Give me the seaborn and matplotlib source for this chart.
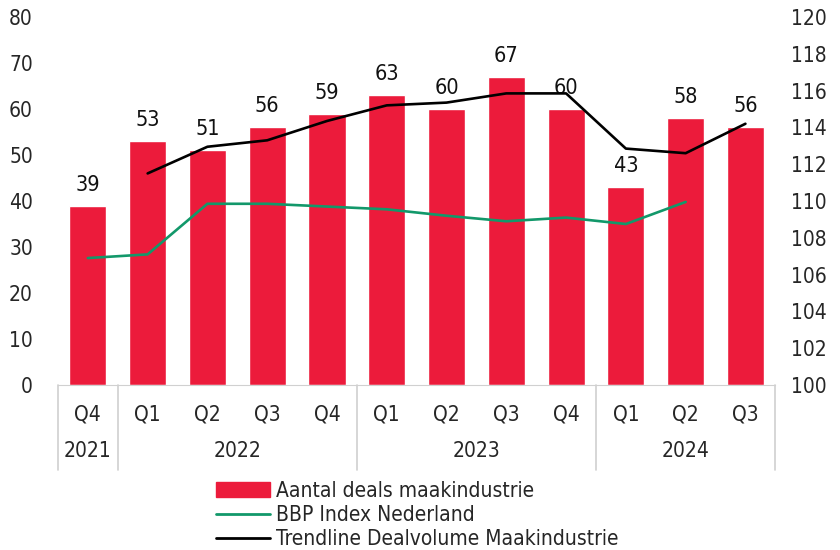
import numpy as np
import pandas as pd
import seaborn as sns
import matplotlib.pyplot as plt
import matplotlib.transforms as mtransforms
from matplotlib.lines import Line2D
from matplotlib.patches import Patch

# data
quarters = ['Q4', 'Q1', 'Q2', 'Q3', 'Q4', 'Q1', 'Q2', 'Q3', 'Q4', 'Q1', 'Q2', 'Q3']
years = ['2021', '2022', '2022', '2022', '2022', '2023', '2023', '2023', '2023', '2024', '2024', '2024']
deals = [39, 53, 51, 56, 59, 63, 60, 67, 60, 43, 58, 56]
bbp = [106.9, 107.1, 109.85, 109.85, 109.7, 109.55, 109.2, 108.9, 109.1, 108.75, 109.95, np.nan]
trend = [np.nan, 111.5, 112.95, 113.3, 114.35, 115.2, 115.35, 115.85, 115.85, 112.85, 112.6, 114.2]

red = '#EC1B3B'
green = '#12986A'
grey = '#D0D0D0'

sns.set_style('white')
plt.rcParams['font.family'] = ['DejaVu Sans']
plt.rcParams['font.stretch'] = 'condensed'
plt.rcParams['font.size'] = 15

df = pd.DataFrame({'idx': range(len(deals)), 'deals': deals, 'bbp': bbp, 'trend': trend})

fig = plt.figure(figsize=(8.4, 5.5), dpi=100)
ax = fig.add_axes([0.069, 0.30, 0.854, 0.669])

sns.barplot(data=df, x='idx', y='deals', color=red, saturation=1, width=0.62, ax=ax)
ax.bar_label(ax.containers[0], padding=8, fontsize=15.5, color='#111111')
ax.set_ylim(0, 80)
ax.set_yticks(range(0, 81, 10))
ax.set_xlim(-0.5, len(deals) - 0.5)
ax.set_xlabel('')
ax.set_ylabel('')
ax.set_xticks(range(len(deals)))
ax.set_xticklabels(quarters)
ax.tick_params(axis='x', length=0, pad=14, labelsize=15)
ax.tick_params(axis='y', length=0, pad=18, labelsize=15)
for s in ['top', 'left', 'right']:
    ax.spines[s].set_visible(False)
ax.spines['bottom'].set_color(grey)

ax2 = ax.twinx()
sns.lineplot(x=df['idx'], y=df['bbp'], color=green, linewidth=1.9, ax=ax2)
sns.lineplot(x=df['idx'], y=df['trend'], color='black', linewidth=1.9, ax=ax2)
ax2.set_ylim(100, 120)
ax2.set_yticks(range(100, 121, 2))
ax2.set_ylabel('')
ax2.tick_params(axis='y', length=0, pad=11, labelsize=15)
for s in ['top', 'left', 'right', 'bottom']:
    ax2.spines[s].set_visible(False)

# year groups below the axis
trans = mtransforms.blended_transform_factory(ax.transData, ax.transAxes)
groups = []
for i, y in enumerate(years):
    if groups and groups[-1][0] == y:
        groups[-1][2] = i
    else:
        groups.append([y, i, i])
bounds = [g[1] - 0.5 for g in groups] + [groups[-1][2] + 0.5]
for b in bounds:
    ax.add_line(Line2D([b, b], [0, -0.23], transform=trans, color=grey,
                       linewidth=1.2, clip_on=False))
for y, a, b in groups:
    ax.text((a + b) / 2, -0.18, y, transform=trans, ha='center', va='center',
            fontsize=15)

handles = [Patch(color=red), Line2D([], [], color=green, linewidth=2),
           Line2D([], [], color='black', linewidth=2)]
labels = ['Aantal deals maakindustrie', 'BBP Index Nederland',
          'Trendline Dealvolume Maakindustrie']
fig.legend(handles, labels, loc='center', bbox_to_anchor=(0.497, 0.064),
           frameon=False, fontsize=15, handlelength=2.6, handletextpad=0.3,
           labelspacing=0.2, borderaxespad=0)

fig.savefig('out.png', dpi=100)
